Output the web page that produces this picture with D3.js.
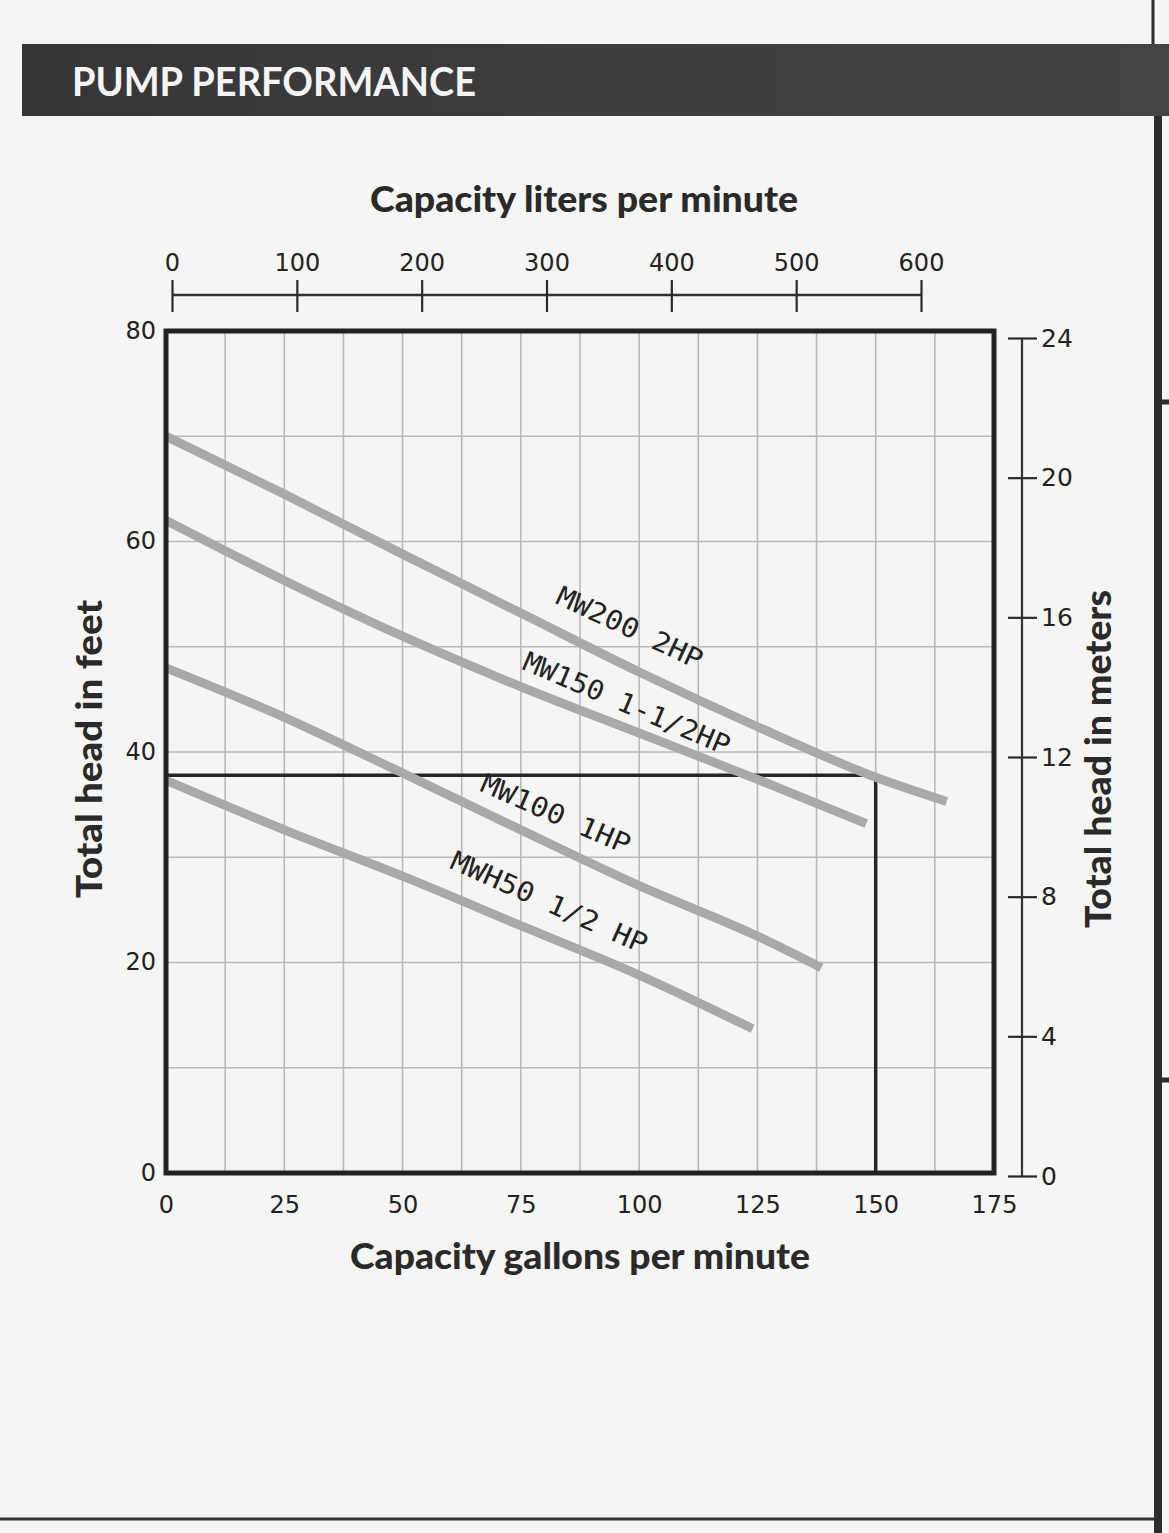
<!DOCTYPE html>
<html>
<head>
<meta charset="utf-8">
<script src="https://cdn.jsdelivr.net/npm/d3@7"></script>
<style>
  html, body { margin: 0; padding: 0; background: #f5f5f3; }
  svg { display: block; }
</style>
</head>
<body>
<svg id="chart" width="1169" height="1533"></svg>
<script>
// ---------------- DATA ----------------
const gpmTicks = [0, 25, 50, 75, 100, 125, 150, 175];
const gpmGrid = [12.5, 25, 37.5, 50, 62.5, 75, 87.5, 100, 112.5, 125, 137.5, 150, 162.5];
const feetTicks = [0, 20, 40, 60, 80];
const feetGrid = [10, 20, 30, 40, 50, 60, 70];
const literTicks = [0, 100, 200, 300, 400, 500, 600];
const meterTicks = [0, 4, 8, 12, 16, 20, 24];

// pump curves: [gpm, feet]
const mw200 = [[0, 70], [25, 64.5], [50, 58.8], [75, 53.2], [100, 47.6], [125, 42.4], [150, 37.6], [165, 35.3]];
const mw150 = [[0, 62], [25, 56.3], [50, 51.0], [75, 46.2], [100, 41.8], [125, 37.4], [148, 33.2]];
const mw100 = [[0, 48], [25, 43.3], [50, 38.0], [75, 32.6], [100, 27.3], [125, 22.5], [138.5, 19.5]];
const mwh50 = [[0, 37.3], [25, 32.6], [50, 28.2], [75, 23.5], [100, 18.8], [124, 13.7]];

const seriesNames = ["MW200 2HP", "MW150 1-1/2HP", "MW100 1HP", "MWH50 1/2 HP"];
// label centre in data units [gpm, feet] and rotation
const labelAnchors = [[97.2, 51.0], [96.6, 43.8], [81.6, 33.3], [80.2, 24.9]];
const labelAngles = [25, 23, 23.5, 24];
const labelLengths = [158, 222, 160, 212];

// operating box
const boxGpm = 150, boxFeet = 37.8;

// ---------------- SCALES ----------------
const svg = d3.select("#chart");
const x = d3.scaleLinear().domain([0, 175]).range([166, 994]);
const y = d3.scaleLinear().domain([0, 80]).range([1173, 331]);
const xL = d3.scaleLinear().domain([0, 600]).range([172, 921]);
const yM = d3.scaleLinear().domain([0, 24]).range([1176, 338]);

const tickFont = "DejaVu Sans, sans-serif";
const titleFont = "Lato, 'Open Sans', sans-serif";

// ---------------- PAGE DECOR ----------------
const barGrad = svg.append("defs").append("linearGradient").attr("id", "bar")
  .attr("x1", 0).attr("x2", 1).attr("y1", 0).attr("y2", 0);
barGrad.append("stop").attr("offset", 0).attr("stop-color", "#363636");
barGrad.append("stop").attr("offset", 1).attr("stop-color", "#444");
svg.append("rect").attr("x", 22).attr("y", 44).attr("width", 1147).attr("height", 72).attr("fill", "url(#bar)");
svg.append("text").attr("x", 72).attr("y", 96)
  .attr("font-family", titleFont).attr("font-weight", 700).attr("font-size", 40)
  .attr("fill", "#f4f4f4").attr("textLength", 404).attr("lengthAdjust", "spacingAndGlyphs")
  .text("PUMP PERFORMANCE");

svg.append("line").attr("x1", 1158).attr("x2", 1158).attr("y1", 116).attr("y2", 1533)
  .attr("stroke", "#2c2c2c").attr("stroke-width", 8);
svg.append("line").attr("x1", 1153).attr("x2", 1153).attr("y1", 0).attr("y2", 44)
  .attr("stroke", "#2c2c2c").attr("stroke-width", 3);
[402, 1080].forEach(v => svg.append("line").attr("x1", 1158).attr("x2", 1169)
  .attr("y1", v).attr("y2", v).attr("stroke", "#2c2c2c").attr("stroke-width", 5));
svg.append("line").attr("x1", 0).attr("x2", 1156).attr("y1", 1519).attr("y2", 1519)
  .attr("stroke", "#333").attr("stroke-width", 3);

// ---------------- GRID ----------------
const grid = svg.append("g");
grid.selectAll("line.v").data(gpmGrid).join("line")
  .attr("x1", d => x(d)).attr("x2", d => x(d)).attr("y1", y(80)).attr("y2", y(0))
  .attr("stroke", "#b9b9b9").attr("stroke-width", 1.6);
grid.selectAll("line.h").data(feetGrid).join("line")
  .attr("x1", x(0)).attr("x2", x(175)).attr("y1", d => y(d)).attr("y2", d => y(d))
  .attr("stroke", "#b9b9b9").attr("stroke-width", 1.6);

// operating box
svg.append("path")
  .attr("d", `M${x(0)},${y(boxFeet)}H${x(boxGpm)}V${y(0)}`)
  .attr("fill", "none").attr("stroke", "#262626").attr("stroke-width", 3.5);

// ---------------- CURVES ----------------
const line = d3.line().x(d => x(d[0])).y(d => y(d[1])).curve(d3.curveMonotoneX);
[mw200, mw150, mw100, mwh50].forEach(s => {
  svg.append("path").attr("d", line(s)).attr("fill", "none")
    .attr("stroke", "#a9a9a9").attr("stroke-width", 9);
});

// frame
svg.append("rect").attr("x", x(0)).attr("y", y(80))
  .attr("width", x(175) - x(0)).attr("height", y(0) - y(80))
  .attr("fill", "none").attr("stroke", "#222").attr("stroke-width", 5);

// curve labels
seriesNames.forEach((name, i) => {
  const [gx, fy] = labelAnchors[i];
  svg.append("text")
    .attr("transform", `translate(${x(gx)},${y(fy)}) rotate(${labelAngles[i]})`)
    .attr("text-anchor", "middle")
    .attr("font-family", "'DejaVu Sans Mono', monospace").attr("font-size", 27)
    .attr("fill", "#222")
    .attr("textLength", labelLengths[i]).attr("lengthAdjust", "spacingAndGlyphs")
    .text(name);
});

// ---------------- AXES ----------------
// bottom (gpm)
const axB = svg.append("g").attr("transform", `translate(0,${y(0)})`)
  .call(d3.axisBottom(x).tickValues(gpmTicks).tickSize(0).tickPadding(23));
// left (feet)
const axLft = svg.append("g").attr("transform", `translate(${x(0)},0)`)
  .call(d3.axisLeft(y).tickValues(feetTicks).tickSize(0).tickPadding(10));
[axB, axLft].forEach(g => {
  g.select(".domain").remove();
  g.selectAll("text").attr("font-family", tickFont).attr("font-size", 24).attr("fill", "#222");
});
axLft.selectAll("text").attr("dy", "0.3em");
// top (liters)
const axT = svg.append("g").attr("transform", "translate(0,295)")
  .call(d3.axisTop(xL).tickValues(literTicks).tickSize(15).tickSizeOuter(0).tickPadding(9));
axT.selectAll(".tick line").attr("y2", -15).attr("y1", 17).attr("stroke", "#2a2a2a").attr("stroke-width", 2.2);
axT.select(".domain").attr("d", `M${xL(0)},0H${xL(600)}`).attr("stroke", "#333").attr("stroke-width", 2.5);
axT.selectAll("text").attr("font-family", tickFont).attr("font-size", 24).attr("fill", "#222");
// right (meters)
const axR = svg.append("g").attr("transform", "translate(1022,0)")
  .call(d3.axisRight(yM).tickValues(meterTicks).tickSize(15).tickSizeOuter(0).tickPadding(4));
axR.selectAll(".tick line").attr("x1", -14).attr("x2", 15).attr("stroke", "#2a2a2a").attr("stroke-width", 2.2);
axR.select(".domain").attr("d", `M0,${yM(0)}V${yM(24)}`).attr("stroke", "#333").attr("stroke-width", 2.2);
axR.selectAll("text").attr("font-family", tickFont).attr("font-size", 25).attr("fill", "#222");

// axis titles
const titleStyle = t => t.attr("font-family", titleFont).attr("font-weight", 900)
  .attr("font-size", 36).attr("fill", "#2a2a2a").attr("text-anchor", "middle")
  .attr("lengthAdjust", "spacingAndGlyphs");
svg.append("text").attr("x", 584).attr("y", 212).call(titleStyle)
  .attr("textLength", 428).text("Capacity liters per minute");
svg.append("text").attr("x", 580).attr("y", 1269).call(titleStyle)
  .attr("textLength", 460).text("Capacity gallons per minute");
svg.append("text").attr("transform", "translate(102,749) rotate(-90)").call(titleStyle)
  .attr("textLength", 298).text("Total head in feet");
svg.append("text").attr("transform", "translate(1111,759) rotate(-90)").call(titleStyle)
  .attr("textLength", 338).text("Total head in meters");
</script>
</body>
</html>
